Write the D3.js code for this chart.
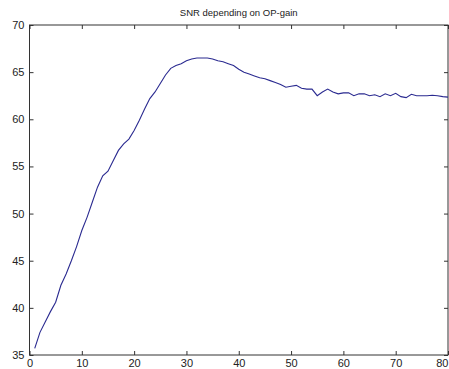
<!DOCTYPE html>
<html>
<head>
<meta charset="utf-8">
<script src="https://cdn.jsdelivr.net/npm/d3@7/dist/d3.min.js"></script>
<style>
  html, body { margin: 0; padding: 0; background: #fff; }
  svg { display: block; }
  text { font-family: "Liberation Sans", Arial, sans-serif; fill: #222; }
</style>
</head>
<body>
<svg id="chart" width="449" height="369"></svg>
<script>
// Op-amp gain steps 1..80 and the resulting SNR (dB)
const gain = d3.range(1, 81);
const snr = [
  35.7, 37.4, 38.5, 39.6, 40.6, 42.4, 43.6, 45.0, 46.5, 48.2,
  49.6, 51.2, 52.8, 54.0, 54.5, 55.6, 56.7, 57.4, 57.9, 58.8,
  59.9, 61.1, 62.2, 62.9, 63.8, 64.7, 65.4, 65.7, 65.9, 66.2,
  66.4, 66.5, 66.5, 66.5, 66.4, 66.2, 66.1, 65.9, 65.7, 65.3,
  65.0, 64.8, 64.6, 64.4, 64.3, 64.1, 63.9, 63.7, 63.4, 63.5,
  63.6, 63.3, 63.2, 63.2, 62.5, 62.9, 63.2, 62.9, 62.7, 62.8,
  62.8, 62.5, 62.7, 62.7, 62.5, 62.6, 62.4, 62.7, 62.5, 62.75,
  62.4, 62.3, 62.65, 62.5, 62.5, 62.5, 62.55, 62.5, 62.4, 62.35
];
const xTicks = [0, 10, 20, 30, 40, 50, 60, 70, 80];
const yTicks = [35, 40, 45, 50, 55, 60, 65, 70];
const title = "SNR depending on OP-gain";

const svg = d3.select("#chart");
const width = 449;
const plotLeft = 29.5, plotRight = 448, plotTop = 25, plotBottom = 355;

const x = d3.scaleLinear().domain([0, 80]).range([plotLeft, plotRight]);
const y = d3.scaleLinear().domain([35, 70]).range([plotBottom, plotTop]);

const axisColor = "#333";

// frame
svg.append("rect")
  .attr("x", plotLeft).attr("y", plotTop)
  .attr("width", plotRight - plotLeft).attr("height", plotBottom - plotTop)
  .attr("fill", "#fff").attr("stroke", axisColor).attr("stroke-width", 1);

// inward ticks on all four sides
const tl = 4;
const bottomAxis = d3.axisBottom(x).tickValues(xTicks).tickSize(-tl).tickPadding(4.5).tickFormat(d3.format("d"));
const topAxis = d3.axisTop(x).tickValues(xTicks).tickSize(-tl).tickFormat("");
const leftAxis = d3.axisLeft(y).tickValues(yTicks).tickSize(-tl).tickPadding(5).tickFormat(d3.format("d"));
const rightAxis = d3.axisRight(y).tickValues(yTicks).tickSize(-tl).tickFormat("");

function style(g) {
  g.select(".domain").remove();
  g.selectAll(".tick line").attr("stroke", axisColor);
  g.selectAll(".tick text").attr("font-size", 11).attr("fill", "#222")
    .attr("font-family", "'Liberation Sans', Arial, sans-serif");
}

const gx = svg.append("g").attr("transform", `translate(0,${plotBottom})`).call(bottomAxis).call(style);
// right-align the last x label so it stays inside the canvas
gx.selectAll(".tick").filter(d => x(d) + 7 > width)
  .select("text")
  .attr("text-anchor", "end")
  .attr("x", 0);

svg.append("g").attr("transform", `translate(0,${plotTop})`).call(topAxis).call(style);
svg.append("g").attr("transform", `translate(${plotLeft},0)`).call(leftAxis).call(style);
svg.append("g").attr("transform", `translate(${plotRight},0)`).call(rightAxis).call(style);

// SNR curve
const line = d3.line()
  .x((d, i) => x(gain[i]))
  .y(d => y(d));

svg.append("path")
  .datum(snr)
  .attr("d", line)
  .attr("fill", "none")
  .attr("stroke", "#2a2a90")
  .attr("stroke-width", 1.1);

// title
svg.append("text")
  .attr("x", (plotLeft + plotRight) / 2)
  .attr("y", 16)
  .attr("text-anchor", "middle")
  .attr("font-size", 9.5)
  .text(title);
</script>
</body>
</html>
